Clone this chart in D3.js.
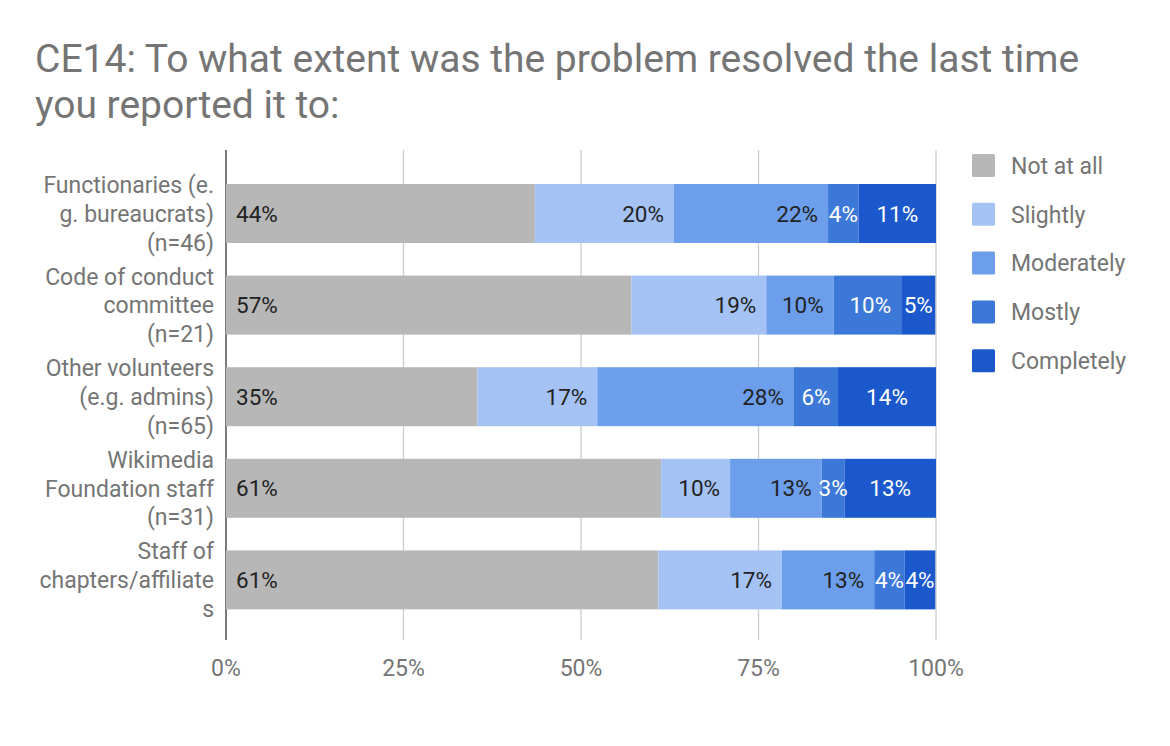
<!DOCTYPE html>
<html><head><meta charset="utf-8">
<script src="https://cdn.jsdelivr.net/npm/d3@7"></script>
<style>body{margin:0;background:#fff;} text{font-family:Roboto,"Noto Sans",sans-serif;}</style>
</head><body>
<svg id="c" width="1170" height="746"></svg>
<script>
const categories = [
  ["Functionaries (e.", "g. bureaucrats)", "(n=46)"],
  ["Code of conduct", "committee", "(n=21)"],
  ["Other volunteers", "(e.g. admins)", "(n=65)"],
  ["Wikimedia", "Foundation staff", "(n=31)"],
  ["Staff of", "chapters/affiliate", "s"]
];
const seriesNames = ["Not at all", "Slightly", "Moderately", "Mostly", "Completely"];
const notAtAll   = [43.5, 57.1, 35.4, 61.3, 60.9];
const slightly   = [19.6, 19.0, 16.9,  9.7, 17.4];
const moderately = [21.7,  9.5, 27.7, 12.9, 13.0];
const mostly     = [ 4.3,  9.5,  6.2,  3.2,  4.3];
const completely = [10.9,  4.8, 13.8, 12.9,  4.3];
const ticks = [0, 25, 50, 75, 100];
const colors = ["#b7b7b7", "#a4c2f4", "#6d9eeb", "#3c78d8", "#1a58cc"];
const labelColors = ["#222", "#222", "#222", "#fff", "#fff"];

const svg = d3.select("#c");
const seriesVals = [notAtAll, slightly, moderately, mostly, completely];
const rows = categories.map((c, i) => {
  const o = {idx: i};
  seriesNames.forEach((s, j) => o[s] = seriesVals[j][i]);
  return o;
});
const stack = d3.stack().keys(seriesNames)(rows);

const x = d3.scaleLinear().domain([0, 100]).range([226, 936]);
const y = d3.scaleBand().domain(d3.range(categories.length)).range([167.7, 625.7]).paddingInner(0.356).paddingOuter(0.178);

// title
const title = svg.append("text").attr("x", 35).attr("fill", "#757575").style("font-size", "39px");
title.append("tspan").attr("x", 35).attr("y", 72).text("CE14: To what extent was the problem resolved the last time");
title.append("tspan").attr("x", 35).attr("y", 118).text("you reported it to:");

// gridlines
svg.append("g").selectAll("line").data(ticks.slice(1)).join("line")
  .attr("x1", d => x(d)).attr("x2", d => x(d)).attr("y1", 150).attr("y2", 640)
  .attr("stroke", "#cccccc").attr("stroke-width", 1.3);
// axis line
svg.append("line").attr("x1", x(0)).attr("x2", x(0)).attr("y1", 150).attr("y2", 640)
  .attr("stroke", "#333").attr("stroke-width", 1.3);

// tick labels
svg.append("g").selectAll("text").data(ticks).join("text")
  .attr("x", d => x(d)).attr("y", 676).attr("text-anchor", "middle")
  .attr("fill", "#757575").style("font-size", "23px").text(d => d + "%");

// bars
const g = svg.append("g");
stack.forEach((s, j) => {
  g.selectAll(null).data(s).join("rect")
    .attr("x", d => x(d[0])).attr("width", d => x(d[1]) - x(d[0]))
    .attr("y", (d, i) => y(i)).attr("height", y.bandwidth())
    .attr("fill", colors[j]);
});

// labels
stack.forEach((s, j) => {
  s.forEach((d, i) => {
    const v = d[1] - d[0];
    const t = g.append("text").attr("y", y(i) + y.bandwidth() / 2).attr("dy", "0.36em")
      .attr("fill", labelColors[j]).style("font-size", "22.5px").text(Math.round(v) + "%");
    const x0 = x(d[0]), x1 = x(d[1]), w = x1 - x0;
    const tw = t.node().getComputedTextLength();
    if (j === 0) {
      t.attr("x", x0 + 10).attr("text-anchor", "start");
    } else if (j === seriesNames.length - 1) {
      t.attr("x", (x0 + x1) / 2).attr("text-anchor", "middle");
    } else {
      const pad = Math.min(10, (w - tw) / 2);
      t.attr("x", x1 - pad).attr("text-anchor", "end");
    }
  });
});

// category labels
categories.forEach((lines, i) => {
  const cy = y(i) + y.bandwidth() / 2;
  const t = svg.append("text").attr("text-anchor", "end").attr("fill", "#757575").style("font-size", "23px");
  lines.forEach((l, k) => {
    t.append("tspan").attr("x", 214).attr("y", cy + (k - 1) * 28.8).attr("dy", "0.36em").text(l);
  });
});

// legend
const lg = svg.append("g");
seriesNames.forEach((s, j) => {
  const cy = 165.5 + j * 48.8;
  lg.append("rect").attr("x", 972).attr("y", cy - 11.5).attr("width", 23).attr("height", 23)
    .attr("rx", 1.5).attr("fill", colors[j]);
  lg.append("text").attr("x", 1011).attr("y", cy).attr("dy", "0.36em")
    .attr("fill", "#757575").style("font-size", "23px").text(s);
});
</script>
</body></html>
